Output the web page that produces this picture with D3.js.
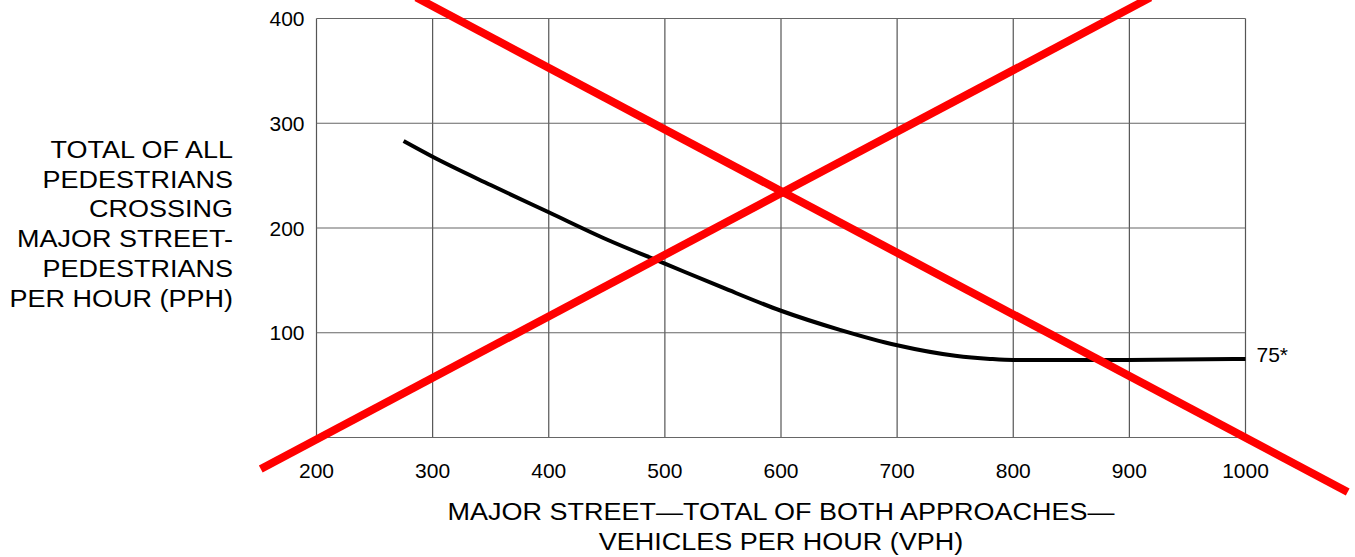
<!DOCTYPE html>
<html><head><meta charset="utf-8">
<script src="https://cdn.jsdelivr.net/npm/d3@7"></script>
<style>body{margin:0;background:#fff}svg{display:block}text{font-family:"Liberation Sans",Arial,sans-serif;fill:#000}</style>
</head><body><svg id="c" width="1355" height="557"></svg>
<script>
// data
const xTicks = [200,300,400,500,600,700,800,900,1000];
const yTicks = [100,200,300,400];
const curveX = [275,300,350,400,450,500,550,600,650,700,750,780,800,900,1000];
const curveY = [283,268,241,215,189,166,143,121,103,88,78,75,74,74,75];
const crossA = [[152,-30],[918,420]];
const crossB = [[286,420],[1088,-52]];
const endLabel = "75*";
const yTitle = ["TOTAL OF ALL","PEDESTRIANS","CROSSING","MAJOR STREET-","PEDESTRIANS","PER HOUR (PPH)"];
const xTitle = ["MAJOR STREET\u2014TOTAL OF BOTH APPROACHES\u2014","VEHICLES PER HOUR (VPH)"];

const svg = d3.select("#c");
const L=316.5, R=1245.5, T=18.5, B=437.5;
const x = d3.scaleLinear().domain([200,1000]).range([L,R]);
const y = d3.scaleLinear().domain([0,400]).range([B,T]);

// grid
const g = svg.append("g");
g.selectAll(".vx").data(xTicks).join("line")
  .attr("x1",d=>x(d)).attr("x2",d=>x(d)).attr("y1",T).attr("y2",B)
  .attr("stroke","#555").attr("stroke-width",1.2);
g.selectAll(".hy").data([0,...yTicks]).join("line")
  .attr("y1",d=>y(d)).attr("y2",d=>y(d)).attr("x1",L).attr("x2",R)
  .attr("stroke","#666").attr("stroke-width",1.2);

// tick labels
svg.append("g").selectAll("text").data(xTicks).join("text")
  .attr("x",d=>x(d)).attr("y",B+40).attr("text-anchor","middle")
  .style("font-size","21px").text(d=>d);
svg.append("g").selectAll("text").data(yTicks).join("text")
  .attr("x",L-12).attr("y",d=>y(d)+7.5).attr("text-anchor","end")
  .style("font-size","21px").text(d=>d);

// curve
const pts = curveX.map((v,i)=>[v,curveY[i]]);
svg.append("path").datum(pts)
  .attr("d", d3.line().x(d=>x(d[0])).y(d=>y(d[1])).curve(d3.curveMonotoneX))
  .attr("fill","none").attr("stroke","#000").attr("stroke-width",4);
svg.append("text").attr("x",x(1000)+11).attr("y",y(75)+3)
  .style("font-size","21px").text(endLabel);

// red cross
[crossA,crossB].forEach(c=>{
  svg.append("line")
    .attr("x1",x(c[0][0])).attr("y1",y(c[0][1]))
    .attr("x2",x(c[1][0])).attr("y2",y(c[1][1]))
    .attr("stroke","#ff0000").attr("stroke-width",8);
});

// titles
svg.append("g").selectAll("text").data(yTitle).join("text")
  .attr("transform",(d,i)=>`translate(233,${158+i*29.7}) scale(1.125,1)`)
  .attr("text-anchor","end")
  .style("font-size","24px").text(d=>d);
svg.append("g").selectAll("text").data(xTitle).join("text")
  .attr("transform",(d,i)=>`translate(781,${520+i*30}) scale(1.125,1)`)
  .attr("text-anchor","middle")
  .style("font-size","24px").text(d=>d);
</script></body></html>
